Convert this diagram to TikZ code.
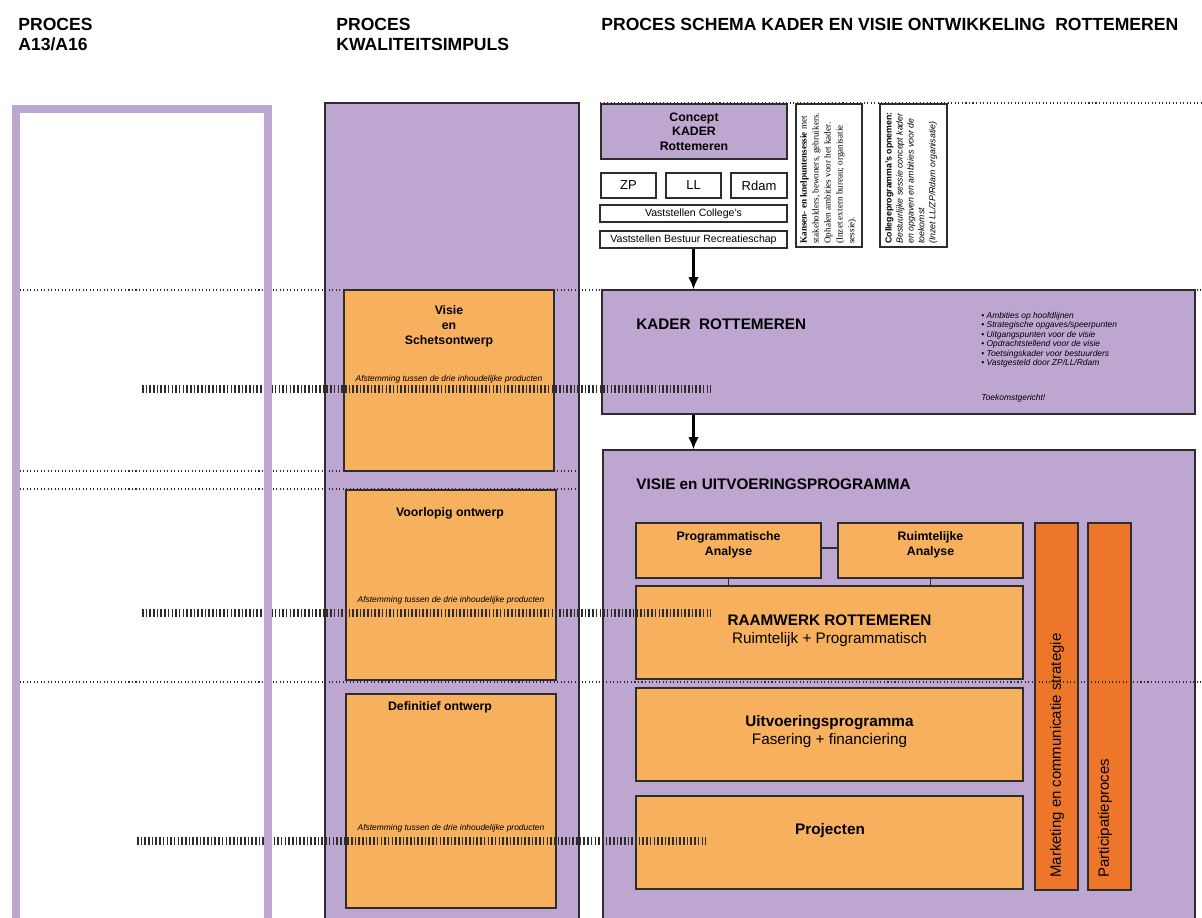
\documentclass[tikz,border=0pt]{standalone}
\usepackage{fontspec}
\setmainfont{Liberation Sans}
\newfontfamily\timesfont{Liberation Serif}
\usetikzlibrary{calc,positioning,arrows.meta,fit}
\definecolor{lila}{RGB}{189,166,208}
\definecolor{oranje}{RGB}{247,176,94}
\definecolor{donkeroranje}{RGB}{238,118,42}
\definecolor{lijn}{RGB}{45,45,45}

\begin{document}
\begin{tikzpicture}[x=0.02cm,y=-0.02cm,
  box/.style={draw=lijn,line width=0.6pt,inner sep=0pt},
  paars/.style={box,fill=lila},
  oranjebox/.style={box,fill=oranje},
  balk/.style={box,fill=donkeroranje},
  wit/.style={box,fill=white},
  kop/.style={inner sep=0pt,anchor=north west,align=left,font=\fontsize{10}{11.3}\selectfont\bfseries},
  titel/.style={inner sep=0pt,anchor=west,font=\fontsize{8.7}{10.2}\selectfont\bfseries},
  groot/.style={inner sep=0pt,align=center,font=\fontsize{8.7}{10.2}\selectfont},
  middel/.style={inner sep=0pt,align=center,font=\fontsize{7}{8.4}\selectfont\bfseries},
  klein/.style={inner sep=0pt,font=\fontsize{4.8}{5.4}\selectfont\itshape},
  draai/.style={rotate=90,inner sep=0pt,align=left},
  pijl/.style={-{Latex[length=7pt,width=6pt]},line width=1.4pt},
  stippel/.style={lijn,line width=0.6pt,dash pattern=on 0.6pt off 1.4pt},
  streep/.style={lijn,line width=4.5pt,dash pattern=on 0.9pt off 1.2pt}]
  \useasboundingbox (0,0) rectangle (1202,917);
  \clip (0,0) rectangle (1202,917);

  % koppen
  \node[kop] (kop1) at (18,18) {PROCES\\A13/A16};
  \node[kop] (kop2) at (336,18) {PROCES\\KWALITEITSIMPULS};
  \node[kop] (kop3) at (601,18) {PROCES SCHEMA KADER EN VISIE ONTWIKKELING\ \ ROTTEMEREN};

  % kolom kwaliteitsimpuls
  \node[paars,fit={(325,103) (579,940)}] (kwal) {};

  % concept kader
  \node[paars,fit={(601,104) (787,159)}] (concept) {};
  \node[middel,font=\fontsize{7}{8.2}\selectfont\bfseries] (concepttekst) at (concept) {Concept\\KADER\\Rottemeren};
  \node[wit,fit={(601,173) (656,198)}] (zp) {};
  \node[wit,fit={(666,173) (721,198)}] (ll) {};
  \node[wit,fit={(731,173) (787,198)}] (rdam) {};
  \node[font=\fontsize{7.4}{8}\selectfont] (zptekst) at (zp) {ZP};
  \node[font=\fontsize{7.4}{8}\selectfont] (lltekst) at (ll) {LL};
  \node[font=\fontsize{7.4}{8}\selectfont] (rdamtekst) at (rdam) {Rdam};
  \node[wit,fit={(600,205) (787,222)}] (vc) {};
  \node[font=\fontsize{6}{7}\selectfont] (vctekst) at (vc) {Vaststellen College's};
  \node[wit,fit={(600,231) (787,248)}] (vsb) {};
  \node[font=\fontsize{6}{7}\selectfont] (vsbtekst) at (vsb) {Vaststellen Bestuur Recreatieschap};

  \node[wit,fit={(796,104) (862,247)}] (sessie1) {};
  \node[draai,anchor=north west,font=\timesfont\fontsize{5.2}{6.8}\selectfont] (sessie1tekst) at (800,244)
    {\textbf{Kansen- en knelpuntensessie} met\\stakeholders, bewoners, gebruikers.\\Ophalen ambities voor het kader.\\(Inzet extern bureau; organisatie\\sessie).};
  \node[wit,fit={(880,104) (947,247)}] (sessie2) {};
  \node[draai,anchor=north west,font=\fontsize{5}{6.2}\selectfont] (sessie2tekst) at (885,244)
    {\textbf{Collegeprogramma's opnemen:}\\\textit{Bestuurlijke sessie concept kader}\\\textit{en opgaven en ambities voor de}\\\textit{toekomst}\\\textit{(Inzet LL/ZP/Rdam organisatie)}};

  % kader
  \node[paars,fit={(602,290) (1195,414)}] (kader) {};
  \node[titel] (kadertitel) at (636,324) {KADER\ \ ROTTEMEREN};
  \node[klein,anchor=north west,align=left] (kaderpunten) at (981,312)
    {•\ Ambities op hoofdlijnen\\•\ Strategische opgaves/speerpunten\\•\ Uitgangspunten voor de visie\\•\ Opdrachtstellend voor de visie\\•\ Toetsingskader voor bestuurders\\•\ Vastgesteld door ZP/LL/Rdam};
  \node[klein,anchor=west] (toekomst) at (981,398) {Toekomstgericht!};

  % visie en uitvoeringsprogramma
  \node[paars,fit={(603,450) (1195,940)}] (visie) {};
  \node[titel] (visietitel) at (636,484) {VISIE en UITVOERINGSPROGRAMMA};
  \node[oranjebox,fit={(636,523) (821,578)}] (prog) {};
  \node[middel,font=\fontsize{7}{8.5}\selectfont\bfseries,yshift=3pt] (progtekst) at (prog) {Programmatische\\Analyse};
  \node[oranjebox,fit={(838,523) (1023,578)}] (ruimte) {};
  \node[middel,font=\fontsize{7}{8.5}\selectfont\bfseries,yshift=3pt] (ruimtetekst) at (ruimte) {Ruimtelijke\\Analyse};
  \node[oranjebox,fit={(636,586) (1023,679)}] (raam) {};
  \node[groot,yshift=1pt] (raamtekst) at (raam) {\textbf{RAAMWERK ROTTEMEREN}\\Ruimtelijk + Programmatisch};
  \node[oranjebox,fit={(636,688) (1023,781)}] (uitv) {};
  \node[groot,yshift=1.5pt] (uitvtekst) at (uitv) {\textbf{Uitvoeringsprogramma}\\Fasering + financiering};
  \node[oranjebox,fit={(636,796) (1023,889)}] (proj) {};
  \node[groot,font=\fontsize{8.7}{10.2}\selectfont\bfseries] (projtekst) at (830,831) {Projecten};
  \node[balk,fit={(1035,523) (1078,890)}] (markt) {};
  \node[draai,anchor=west,font=\fontsize{8.5}{10}\selectfont] (markttekst) at (1057,878) {Marketing en communicatie strategie};
  \node[balk,fit={(1088,523) (1131,890)}] (part) {};
  \node[draai,anchor=west,font=\fontsize{8.5}{10}\selectfont] (parttekst) at (1105,878) {Participatieproces};

  % kwaliteitsimpuls producten
  \node[oranjebox,fit={(344,290) (554,471)}] (schets) {};
  \node[middel,font=\fontsize{7}{8.5}\selectfont\bfseries] (schetstekst) at (449,326) {Visie\\en\\Schetsontwerp};
  \node[klein] (afst1) at (449,379) {Afstemming tussen de drie inhoudelijke producten};
  \node[oranjebox,fit={(346,490) (556,680)}] (vo) {};
  \node[middel] (votekst) at (450,513) {Voorlopig ontwerp};
  \node[klein] (afst2) at (451,600) {Afstemming tussen de drie inhoudelijke producten};
  \node[oranjebox,fit={(346,694) (556,908)}] (do) {};
  \node[middel] (dotekst) at (440,707) {Definitief ontwerp};
  \node[klein] (afst3) at (451,828) {Afstemming tussen de drie inhoudelijke producten};

  % verbindingen
  \draw[pijl] (vsb.south) -- (vsb.south |- kader.north);
  \draw[pijl] (kader.south -| vsb.south) -- (visie.north -| vsb.south);
  \draw[lijn,line width=0.6pt] (prog.east |- 0,548) -- (ruimte.west |- 0,548);
  \draw[lijn,line width=0.6pt] (prog.south) -- (prog.south |- raam.north);
  \draw[lijn,line width=0.6pt] (ruimte.south) -- (ruimte.south |- raam.north);

  % stippellijnen
  \draw[stippel] (600,103) -- (1202,103);
  \draw[stippel] (16,290) -- (1202,290);
  \draw[stippel] (16,471) -- (578,471);
  \draw[stippel] (16,489) -- (578,489);
  \draw[stippel] (16,682) -- (1202,682);

  % afstemming
  \draw[streep] (142,389) -- (711,389);
  \draw[streep] (142,613) -- (711,613);
  \draw[streep] (137,841) -- (706,841);

  % kolom A13/A16
  \node[draw=lila,line width=4.5pt,inner sep=0pt,fit={(16,109) (268,950)}] (a13) {};
\end{tikzpicture}
\end{document}
